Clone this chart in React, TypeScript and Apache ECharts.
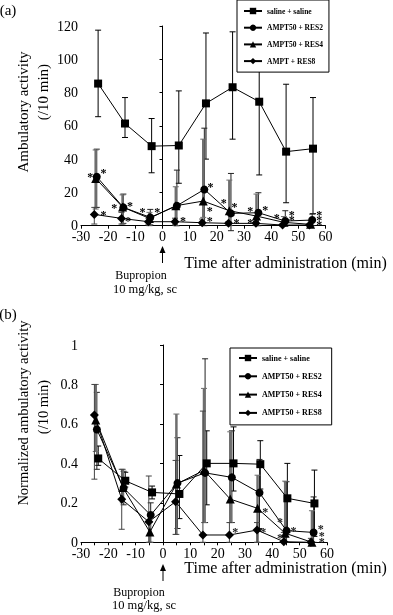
import React, { useEffect, useRef } from "react";
import * as echarts from "echarts";

// ---------- data ----------
const X_TICKS = [-30, 60, 10];
const SAL_X = [-23.7, -13.8, -4, 6, 16, 25.8, 35.6, 45.5, 55.4];
const R2_X = [-24.2, -14.4, -4.5, 5.3, 15.4, 25.2, 35.3, 45.2, 55.1];
const R4_X = [-24.6, -14.7, -4.8, 4.9, 15, 24.6, 34.6, 44.7, 54.5];
const R8_X = [-25.1, -15.1, -5.2, 4.6, 14.6, 24.3, 34.4, 44.2, 54.1];

const A_NAMES = ["saline + saline", "AMPT50 + RES2", "AMPT50 + RES4", "AMPT + RES8"];
const B_NAMES = ["saline + saline", "AMPT50 + RES2", "AMPT50 + RES4", "AMPT50 + RES8"];

// panel (a) ambulatory activity
const A_SAL = [85.4, 61.4, 47.8, 48.2, 73.5, 83.2, 74.5, 44.5, 46.3];
const A_SAL_LO = [65.5, 53, 31.8, 25.5, 40, 52, 30.5, 13.8, 7.2];
const A_SAL_HI = [117.5, 77, 64.4, 81, 115.8, 116.5, 118, 85, 77];
const A_R2 = [29.4, 11, 5, 12, 21.8, 7.4, 7.8, 2.8, 3.4];
const A_R2_LO = [11, 1.4, 0.5, 0, 0, -3, 0, 0, 0];
const A_R2_HI = [46, 19, 9.8, 33.4, 58.6, 31.4, 19.8, 9, 7];
const A_R4 = [28.4, 11.2, 4.4, 12, 14.8, 9, 5.8, 2, 0.8];
const A_R4_LO = [10, 1, 0, 0, 5, 0, 0, 0, 0];
const A_R4_HI = [45.5, 18.5, 8, 23.4, 52, 27.4, 19, 5.5, 3];
const A_R8 = [6.8, 4.4, 2.4, 2.4, 1.8, 1.4, 1.4, 0.4, 0.4];
const A_R8_LO = [1, 1, 0.5, 0.5, 0.5, 0.3, 0.3, 0, 0];
const A_R8_HI = [11, 8, 4.5, 4.5, 4, 2.5, 2.5, 1, 1];
const A_STAR_X = [-26.6, -21.7, -21.7, -17.8, -12, -12.7, -7.4, -1.9, 7.5, 17.7, 17.4, 17.4, 22.5, 26.5, 27.2, 32.3, 37.8, 32.3, 42.1, 47.6, 47.6, 57.7, 57.7, 57.7];
const A_STAR_Y = [31.8, 33.8, 8.8, 13, 14.4, 5, 10.4, 10.4, 5, 25.4, 11, 5, 15.8, 13.8, 3.8, 11.4, 11.8, 3.8, 7, 8.8, 5.8, 8.8, 5.8, 2.8];

// panel (b) normalized ambulatory activity
const B_SAL = [0.425, 0.312, 0.253, 0.245, 0.4, 0.4, 0.396, 0.223, 0.197];
const B_SAL_LO = [0.39, 0.28, 0.22, 0.12, 0.19, 0.26, 0.27, 0.05, 0.03];
const B_SAL_HI = [0.488, 0.355, 0.285, 0.44, 0.565, 0.585, 0.515, 0.4, 0.366];
const B_R2 = [0.572, 0.275, 0.138, 0.3, 0.352, 0.329, 0.251, 0.059, 0.05];
const B_R2_LO = [0.37, 0.19, 0, 0.07, 0.1, 0.1, 0.07, 0, 0];
const B_R2_HI = [0.76, 0.36, 0.2, 0.53, 0.93, 0.565, 0.42, 0.307, 0.23];
const B_R4 = [0.62, 0.278, 0.052, 0.295, 0.365, 0.219, 0.172, 0.046, 0];
const B_R4_LO = [0.46, 0.2, 0, 0.04, 0.1, 0.1, 0, 0, 0];
const B_R4_HI = [0.8, 0.37, 0.1, 0.65, 0.78, 0.56, 0.34, 0.31, 0.16];
const B_R8 = [0.645, 0.218, 0.104, 0.206, 0.037, 0.037, 0.062, 0.003, 0];
const B_R8_LO = [0.32, 0.066, 0, 0.04, 0, 0, 0, 0, 0];
const B_R8_HI = [0.8, 0.37, 0.336, 0.415, 0.665, 0.1, 0.1, 0.05, 0.02];
const B_STAR_X = [26.4, 36.7, 37.4, 42.8, 42.8, 47.7, 57.7, 58.1, 58.1];
const B_STAR_Y = [0.074, 0.074, 0.172, 0.121, 0.04, 0.076, 0.088, 0.054, 0.023];

const SERIF = "Liberation Serif";
const SYMBOLS = ["rect", "circle", "triangle", "diamond"];
const SYM_SIZE = [8, 8, 9, 9];

function zip2(xs: number[], ys: number[]) {
  return xs.map((x, i) => [x, ys[i]]);
}
function zip3(xs: number[], lo: number[], hi: number[]) {
  return xs.map((x, i) => [x, lo[i], hi[i]]);
}

function errRender(color: string, w: number) {
  return (params: any, api: any) => {
    const x = api.value(0);
    const lo = api.value(1);
    const hi = api.value(2);
    const pH = api.coord([x, hi]);
    const pL = api.coord([x, lo]);
    const c = 3;
    const st = { stroke: color, lineWidth: w };
    return {
      type: "group",
      children: [
        { type: "line", shape: { x1: pH[0], y1: pH[1], x2: pL[0], y2: pL[1] }, style: st },
        { type: "line", shape: { x1: pH[0] - c, y1: pH[1], x2: pH[0] + c, y2: pH[1] }, style: { stroke: color, lineWidth: 1 } },
        { type: "line", shape: { x1: pL[0] - c, y1: pL[1], x2: pL[0] + c, y2: pL[1] }, style: { stroke: color, lineWidth: 1 } },
      ],
    };
  };
}

function starRender(color: string) {
  return (params: any, api: any) => {
    const p = api.coord([api.value(0), api.value(1)]);
    return {
      type: "text",
      x: p[0],
      y: p[1] + 4,
      style: { text: "*", fontSize: 12, fontWeight: "bold", fontFamily: SERIF, fill: color, textAlign: "center", textVerticalAlign: "middle" },
    };
  };
}

const ERR_STYLE = [
  ["#000", 1],
  ["#222", 1],
  ["#6e6e6e", 2.5],
  ["#444", 1],
];

function panelSeries(idx: number, names: string[], xs: number[][], vals: number[][], los: number[][], his: number[][], starX: number[], starY: number[], starColor: string) {
  const out: any[] = [];
  for (let i = 0; i < 4; i++) {
    out.push({
      type: "custom",
      xAxisIndex: idx,
      yAxisIndex: idx,
      z: 1,
      clip: false,
      silent: true,
      renderItem: errRender(ERR_STYLE[i][0] as string, ERR_STYLE[i][1] as number),
      encode: { x: 0, y: [1, 2] },
      data: zip3(xs[i], los[i], his[i]),
    });
  }
  for (let i = 0; i < 4; i++) {
    out.push({
      type: "line",
      name: names[i],
      xAxisIndex: idx,
      yAxisIndex: idx,
      z: 3,
      symbol: SYMBOLS[i],
      symbolSize: SYM_SIZE[i],
      showSymbol: true,
      clip: false,
      lineStyle: { color: "#000", width: 1 },
      itemStyle: { color: "#000" },
      data: zip2(xs[i], vals[i]),
    });
  }
  out.push({
    type: "custom",
    xAxisIndex: idx,
    yAxisIndex: idx,
    z: 4,
    clip: false,
    silent: true,
    renderItem: starRender(starColor),
    encode: { x: 0, y: 1 },
    data: zip2(starX, starY),
  });
  return out;
}

function xAxis(idx: number, minor: boolean) {
  return {
    type: "value",
    gridIndex: idx,
    min: X_TICKS[0],
    max: X_TICKS[1],
    interval: X_TICKS[2],
    axisLine: { onZero: false, lineStyle: { color: "#000", width: 1 } },
    axisTick: { length: 3, lineStyle: { color: "#000" } },
    minorTick: { show: minor, splitNumber: 2, length: 3, lineStyle: { color: "#000" } },
    splitLine: { show: false },
    axisLabel: { color: "#000", fontSize: 14, fontFamily: SERIF, margin: 4 },
  };
}
function yAxis(idx: number, max: number, interval: number) {
  return {
    type: "value",
    gridIndex: idx,
    min: 0,
    max,
    interval,
    axisLine: { show: true, lineStyle: { color: "#000", width: 1 } },
    axisTick: { show: true, length: 3, lineStyle: { color: "#000" } },
    splitLine: { show: false },
    axisLabel: { color: "#000", fontSize: 14, fontFamily: SERIF, margin: 3 },
  };
}

function legend(names: string[], left: number, top: number, pad: number[], gap: number, fs: number) {
  return {
    data: names,
    orient: "vertical",
    left,
    top,
    padding: pad,
    itemGap: gap,
    itemWidth: 18,
    itemHeight: 8,
    borderColor: "#000",
    borderWidth: 1,
    backgroundColor: "#fff",
    selectedMode: false,
    textStyle: { fontSize: fs, fontFamily: SERIF, fontWeight: "bold", color: "#000" },
  };
}

export default function App() {
  const ref = useRef<HTMLDivElement>(null);
  useEffect(() => {
    if (!ref.current) return;
    const chart = echarts.init(ref.current, undefined, { renderer: "svg" });
    const series = [
      ...panelSeries(0, A_NAMES, [SAL_X, R2_X, R4_X, R8_X], [A_SAL, A_R2, A_R4, A_R8], [A_SAL_LO, A_R2_LO, A_R4_LO, A_R8_LO], [A_SAL_HI, A_R2_HI, A_R4_HI, A_R8_HI], A_STAR_X, A_STAR_Y, "#000"),
      ...panelSeries(1, B_NAMES, [SAL_X, R2_X, R4_X, R8_X], [B_SAL, B_R2, B_R4, B_R8], [B_SAL_LO, B_R2_LO, B_R4_LO, B_R8_LO], [B_SAL_HI, B_R2_HI, B_R4_HI, B_R8_HI], B_STAR_X, B_STAR_Y, "#222"),
    ];
    chart.setOption({
      animation: false,
      backgroundColor: "#fff",
      textStyle: { fontFamily: SERIF },
      grid: [
        { left: 81, top: 26, width: 244.5, height: 199.7 },
        { left: 81, top: 345, width: 246, height: 197.3 },
      ],
      xAxis: [xAxis(0, false), xAxis(1, true)],
      yAxis: [yAxis(0, 120, 20), yAxis(1, 1, 0.2)],
      legend: [
        legend(A_NAMES, 237, 0, [7, 6, 7, 6], 8.7, 7.5),
        legend(B_NAMES, 230, 348, [6, 10, 8, 8], 10.3, 8),
      ],
      series,
    });

    const a0 = chart.convertToPixel({ xAxisIndex: 0 }, 0) as number;
    const b0 = chart.convertToPixel({ xAxisIndex: 1 }, 0) as number;
    const txt = (x: number, y: number, text: string, fs: number, extra: any = {}) => ({
      type: "text",
      x,
      y,
      style: { text, fontSize: fs, fontFamily: SERIF, fill: "#000", textAlign: "center", textVerticalAlign: "middle" },
      ...extra,
    });
    const arrow = (x: number, tip: number, end: number) => [
      { type: "line", shape: { x1: x, y1: tip + 4, x2: x, y2: end }, style: { stroke: "#000", lineWidth: 1 } },
      { type: "polygon", shape: { points: [[x, tip], [x - 3, tip + 7], [x + 3, tip + 7]] }, style: { fill: "#000" } },
    ];
    chart.setOption({
      graphic: [
        txt(8, 10, "(a)", 15),
        txt(8, 314, "(b)", 15),
        txt(23, 112, "Ambulatory activity", 15, { rotation: Math.PI / 2 }),
        txt(43, 92, "(/10 min)", 15, { rotation: Math.PI / 2 }),
        txt(23, 413, "Normalized ambulatory activity", 14.5, { rotation: Math.PI / 2 }),
        txt(43, 407, "(/10 min)", 14.5, { rotation: Math.PI / 2 }),
        txt(285.5, 262, "Time after administration (min)", 16),
        txt(285.5, 567, "Time after administration (min)", 16),
        ...arrow(a0, 246, 263),
        txt(141, 275, "Bupropion", 12),
        txt(145, 289, "10 mg/kg, sc", 12.5),
        ...arrow(b0, 564, 581),
        txt(139, 592, "Bupropion", 12),
        txt(144, 605, "10 mg/kg, sc", 12.5),
      ],
    });
    return () => chart.dispose();
  }, []);
  return (
    <div
      ref={ref}
      style={{ position: "absolute", left: 0, top: 0, width: 393, height: 615, background: "#fff", filter: "grayscale(1)" }}
    />
  );
}
